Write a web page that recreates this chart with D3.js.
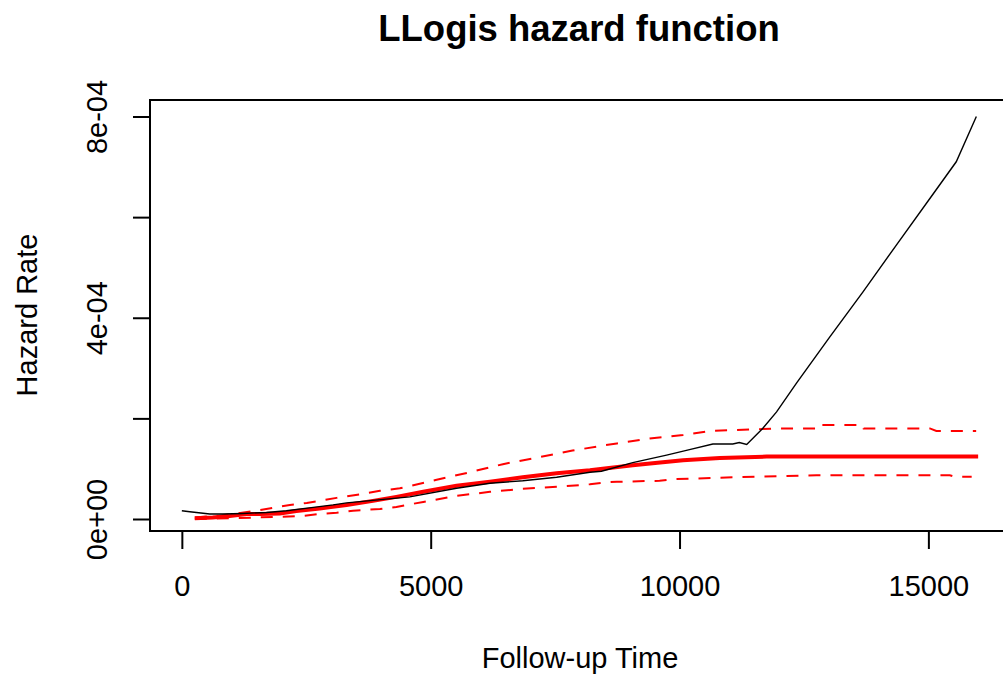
<!DOCTYPE html>
<html>
<head>
<meta charset="utf-8">
<script src="https://cdn.jsdelivr.net/npm/d3@7/dist/d3.min.js"></script>
<style>
  html, body { margin: 0; padding: 0; background: #fff; }
  svg { display: block; }
  text { font-family: "Liberation Sans", Arial, sans-serif; fill: #000; }
</style>
</head>
<body>
<svg id="chart" width="1003" height="676"></svg>
<script>
// Empirical hazard (black): time, rate in units of 1e-4
const obsTime = [0, 160, 560, 820, 1225, 1700, 2100, 2640, 3040, 3310, 4580, 5520, 6190, 6850, 7530, 8200,
  8430, 9060, 9740, 10200, 10670, 11070, 11200, 11350, 11670, 11950, 12350, 13020, 13690, 14360, 15030, 15560, 15964];
const obsRate = [0.165, 0.145, 0.10, 0.10, 0.11, 0.13, 0.165, 0.23, 0.28, 0.32, 0.44, 0.61, 0.71, 0.76, 0.83, 0.93,
  0.95, 1.12, 1.27, 1.38, 1.49, 1.49, 1.52, 1.48, 1.80, 2.13, 2.70, 3.62, 4.52, 5.45, 6.37, 7.10, 8.00];

// Log-logistic fitted hazard (red, thick)
const fitTime = [260, 620, 960, 1300, 1570, 1970, 2300, 2770, 3310, 3840, 4310, 4850, 5520, 6190, 6850, 7530,
  8200, 8540, 9060, 9560, 10070, 10810, 11750, 16000];
const fitRate = [0.014, 0.03, 0.06, 0.10, 0.10, 0.11, 0.16, 0.21, 0.28, 0.36, 0.44, 0.54, 0.66, 0.74, 0.83, 0.91,
  0.97, 1.01, 1.07, 1.12, 1.17, 1.21, 1.24, 1.24];

// Upper confidence band (red, dashed)
const upperTime = [260, 800, 1500, 1830, 2170, 2510, 2770, 3110, 3640, 3980, 4380, 5120, 5790, 6450, 7130, 7850,
  8460, 8740, 9400, 10070, 10610, 11410, 12000, 12800, 12820, 13690, 13700, 15030, 15160, 15960];
const upperRate = [0.03, 0.07, 0.165, 0.22, 0.28, 0.32, 0.36, 0.42, 0.50, 0.56, 0.61, 0.78, 0.93, 1.09, 1.22, 1.36,
  1.46, 1.50, 1.60, 1.67, 1.75, 1.78, 1.80, 1.80, 1.87, 1.87, 1.80, 1.80, 1.75, 1.75];

// Lower confidence band (red, dashed)
const lowerTime = [260, 1500, 2430, 2770, 3110, 3440, 3980, 4310, 4850, 5520, 6190, 6850, 7530, 8200, 8540, 8740,
  9600, 9860, 11070, 12750, 15430, 15530, 15870];
const lowerRate = [0.0, 0.03, 0.06, 0.10, 0.125, 0.165, 0.20, 0.24, 0.34, 0.46, 0.54, 0.60, 0.64, 0.69, 0.73, 0.74,
  0.76, 0.79, 0.83, 0.87, 0.87, 0.84, 0.84];

const xTicks = [0, 5000, 10000, 15000];
const xTickLabels = ["0", "5000", "10000", "15000"];
const yTicks = [0, 2e-4, 4e-4, 6e-4, 8e-4];
const yTickLabels = ["0e+00", "", "4e-04", "", "8e-04"];

const titleText = "LLogis hazard function";
const xTitle = "Follow-up Time";
const yTitle = "Hazard Rate";

const svg = d3.select("#chart");
const box = { left: 150, top: 100, right: 1010, bottom: 531 };

const x = d3.scaleLinear().domain([-640, 16640]).range([box.left, box.right]);
const y = d3.scaleLinear().domain([-2.385e-5, 8.328e-4]).range([box.bottom, box.top]);

const toPoints = (ts, vs) => ts.map((t, i) => [t, vs[i] * 1e-4]);
const line = d3.line().x(d => x(d[0])).y(d => y(d[1]));

const plot = svg.append("g");

// confidence band
plot.append("path").datum(toPoints(upperTime, upperRate))
  .attr("d", line).attr("fill", "none").attr("stroke", "#ff0000")
  .attr("stroke-width", 2).attr("stroke-dasharray", "12,10");
plot.append("path").datum(toPoints(lowerTime, lowerRate))
  .attr("d", line).attr("fill", "none").attr("stroke", "#ff0000")
  .attr("stroke-width", 2).attr("stroke-dasharray", "12,10");

// fitted hazard
plot.append("path").datum(toPoints(fitTime, fitRate))
  .attr("d", line).attr("fill", "none").attr("stroke", "#ff0000")
  .attr("stroke-width", 4);

// empirical hazard
plot.append("path").datum(toPoints(obsTime, obsRate))
  .attr("d", line).attr("fill", "none").attr("stroke", "#000")
  .attr("stroke-width", 1.4);

// frame
svg.append("rect")
  .attr("x", box.left).attr("y", box.top)
  .attr("width", box.right - box.left).attr("height", box.bottom - box.top)
  .attr("fill", "none").attr("stroke", "#000").attr("stroke-width", 2);

// x axis
const xAxis = d3.axisBottom(x).tickValues(xTicks).tickSize(18)
  .tickFormat((d, i) => xTickLabels[i]);
const gx = svg.append("g").attr("transform", `translate(0,${box.bottom})`).call(xAxis);
gx.select(".domain").attr("d", `M${x(0)},0H${x(15000)}`).attr("stroke", "#000").attr("stroke-width", 2);
gx.selectAll(".tick line").attr("stroke", "#000").attr("stroke-width", 2);
gx.selectAll(".tick text").attr("font-size", 29).attr("font-family", "Liberation Sans, Arial, sans-serif")
  .attr("fill", "#000").attr("y", 65).attr("dy", null);

// y axis
const yAxis = d3.axisLeft(y).tickValues(yTicks).tickSize(17)
  .tickFormat((d, i) => yTickLabels[i]);
const gy = svg.append("g").attr("transform", `translate(${box.left},0)`).call(yAxis);
gy.select(".domain").attr("d", `M0,${y(0)}V${y(8e-4)}`).attr("stroke", "#000").attr("stroke-width", 2);
gy.selectAll(".tick line").attr("stroke", "#000").attr("stroke-width", 2);
gy.selectAll(".tick text")
  .attr("font-size", 29).attr("font-family", "Liberation Sans, Arial, sans-serif").attr("fill", "#000")
  .attr("x", null).attr("dy", null).attr("text-anchor", "middle")
  .attr("transform", "translate(-43,0) rotate(-90)");

// titles
svg.append("text").attr("x", 579).attr("y", 41).attr("text-anchor", "middle")
  .attr("font-size", 36.5).attr("font-weight", "bold").text(titleText);
svg.append("text").attr("x", 580).attr("y", 668).attr("text-anchor", "middle")
  .attr("font-size", 29).text(xTitle);
svg.append("text").attr("transform", "translate(37,315) rotate(-90)").attr("text-anchor", "middle")
  .attr("font-size", 29).text(yTitle);
</script>
</body>
</html>
